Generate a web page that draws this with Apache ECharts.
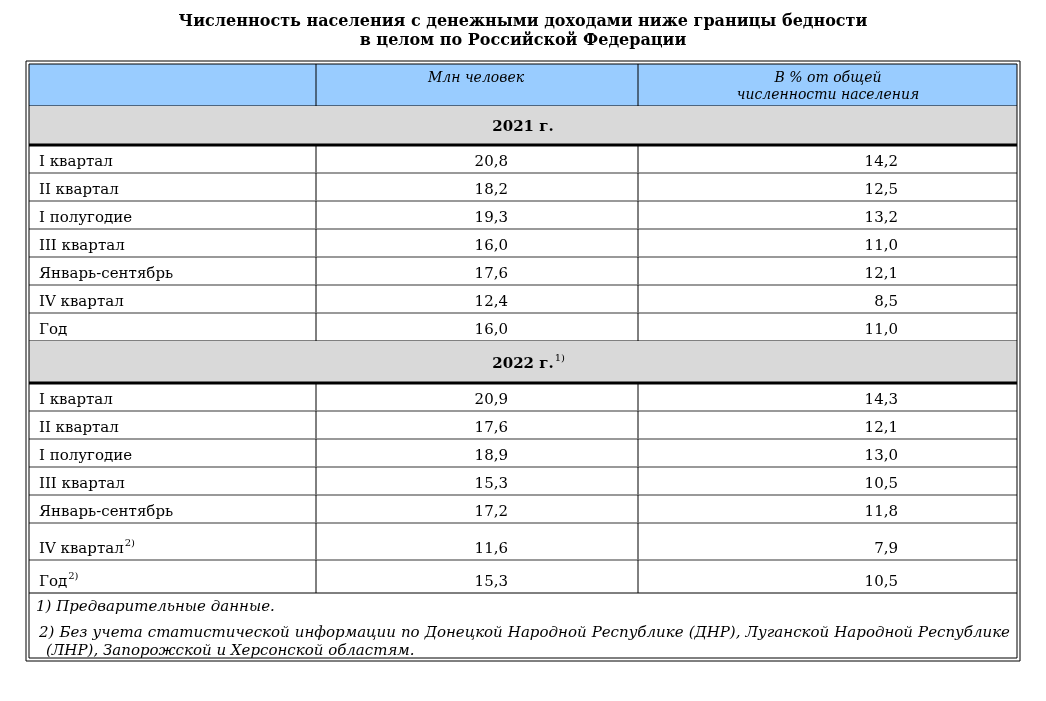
<!DOCTYPE html>
<html>
<head>
<meta charset="utf-8">
<script src="https://cdn.jsdelivr.net/npm/echarts@6/dist/echarts.min.js"></script>
<style>html,body{margin:0;background:#fff}#chart{width:1046px;height:701px}</style>
</head>
<body>
<div id="chart"></div>
<script>
// данные таблицы
var titleLines = ['Численность населения с денежными доходами ниже границы бедности', 'в целом по Российской Федерации'];
var headers = ['Млн человек', 'В % от общей\nчисленности населения'];
var years = ['2021 г.', '2022 г.'];
var yearNotes = ['', '1)'];
var rows2021 = ['I квартал', 'II квартал', 'I полугодие', 'III квартал', 'Январь-сентябрь', 'IV квартал', 'Год'];
var notes2021 = ['', '', '', '', '', '', ''];
var mln2021 = ['20,8', '18,2', '19,3', '16,0', '17,6', '12,4', '16,0'];
var pct2021 = ['14,2', '12,5', '13,2', '11,0', '12,1', '8,5', '11,0'];
var rows2022 = ['I квартал', 'II квартал', 'I полугодие', 'III квартал', 'Январь-сентябрь', 'IV квартал', 'Год'];
var notes2022 = ['', '', '', '', '', '2)', '2)'];
var mln2022 = ['20,9', '17,6', '18,9', '15,3', '17,2', '11,6', '15,3'];
var pct2022 = ['14,3', '12,1', '13,0', '10,5', '11,8', '7,9', '10,5'];
var footnotes = ['1) Предварительные данные.',
    '2) Без учета статистической информации по Донецкой Народной Республике (ДНР), Луганской Народной Республике',
    '(ЛНР), Запорожской и Херсонской областям.'];

var FONT = '"DejaVu Serif", "Liberation Serif", serif';
var L = 29, R = 1017, C1 = 316, C2 = 638;
var els = [];
var ctx = document.createElement('canvas').getContext('2d');

function fontOf(opt) {
    return (opt.style || '') + ' ' + (opt.weight || '') + ' ' + (opt.size || 15) + 'px ' + FONT;
}
function measure(t, opt) {
    ctx.font = fontOf(opt || {});
    return ctx.measureText(t).width;
}
function line(x1, y1, x2, y2, w, c) {
    els.push({type: 'line', shape: {x1: x1, y1: y1, x2: x2, y2: y2}, style: {stroke: c || '#000', lineWidth: w || 1}});
}
function rect(x, y, w, h, c) {
    els.push({type: 'rect', shape: {x: x, y: y, width: w, height: h}, style: {fill: c}});
}
function text(t, x, y, opt) {
    opt = opt || {};
    els.push({type: 'text', x: x, y: y, style: {
        text: t, fill: '#000', font: fontOf(opt),
        textAlign: opt.align || 'left', textVerticalAlign: 'middle', lineHeight: opt.lh || 16
    }});
}
// текст по ширине
function justify(t, x1, x2, y, opt) {
    var words = t.split(' ');
    var total = 0;
    words.forEach(function (w) { total += measure(w, opt); });
    var gap = (x2 - x1 - total) / (words.length - 1);
    var x = x1;
    words.forEach(function (w) {
        text(w, x, y, opt);
        x += measure(w, opt) + gap;
    });
}

// заголовок
text(titleLines[0], 523, 22, {weight: 'bold', size: 16, align: 'center'});
text(titleLines[1], 523, 41, {weight: 'bold', size: 16, align: 'center'});

// шапка
rect(L, 64, R - L, 42, '#99ccff');
text(headers[0], 476, 78, {style: 'italic', size: 14, align: 'center'});
text(headers[1], 828, 87, {style: 'italic', size: 14, align: 'center', lh: 17});
line(C1, 64, C1, 106); line(C2, 64, C2, 106);
line(L, 106, R, 106);

function block(yTop, yearIdx, names, notes, mln, pct, heights) {
    rect(L, yTop, R - L, heights.year, '#d9d9d9');
    var yc = yTop + heights.year / 2 + 2;
    text(years[yearIdx], 523, yc, {weight: 'bold', align: 'center'});
    if (yearNotes[yearIdx]) text(yearNotes[yearIdx], 523 + measure(years[yearIdx], {weight: 'bold'}) / 2 + 1, yc - 6, {size: 10});
    var y = yTop + heights.year;
    line(L, y, R, y, 3);
    for (var i = 0; i < names.length; i++) {
        var h = heights.rows[i];
        var ty = y + h - 11;
        text(names[i], 39, ty);
        if (notes[i]) text(notes[i], 39 + measure(names[i]) + 1, ty - 6, {size: 10});
        text(mln[i], 508, ty, {align: 'right'});
        text(pct[i], 898, ty, {align: 'right'});
        line(C1, y, C1, y + h); line(C2, y, C2, y + h);
        y += h;
        if (i < names.length - 1) line(L, y, R, y, 1.5, '#777');
    }
    return y;
}

var yEnd1 = block(106, 0, rows2021, notes2021, mln2021, pct2021, {year: 39, rows: [28, 28, 28, 28, 28, 28, 28]});
line(L, yEnd1, R, yEnd1);
var yEnd2 = block(yEnd1, 1, rows2022, notes2022, mln2022, pct2022, {year: 42, rows: [28, 28, 28, 28, 28, 37, 33]});
line(L, yEnd2, R, yEnd2);

text(footnotes[0], 36, 607, {style: 'italic'});
justify(footnotes[1], 39, 1010, 633, {style: 'italic'});
text(footnotes[2], 46, 651, {style: 'italic'});

// двойная рамка
els.push({type: 'rect', shape: {x: 26, y: 61, width: 994, height: 600}, style: {fill: 'none', stroke: '#000', lineWidth: 1}});
els.push({type: 'rect', shape: {x: 29, y: 64, width: 988, height: 594}, style: {fill: 'none', stroke: '#000', lineWidth: 1}});

var myChart = echarts.init(document.getElementById('chart'));
myChart.setOption({animation: false, graphic: {elements: els}});
</script>
</body>
</html>
